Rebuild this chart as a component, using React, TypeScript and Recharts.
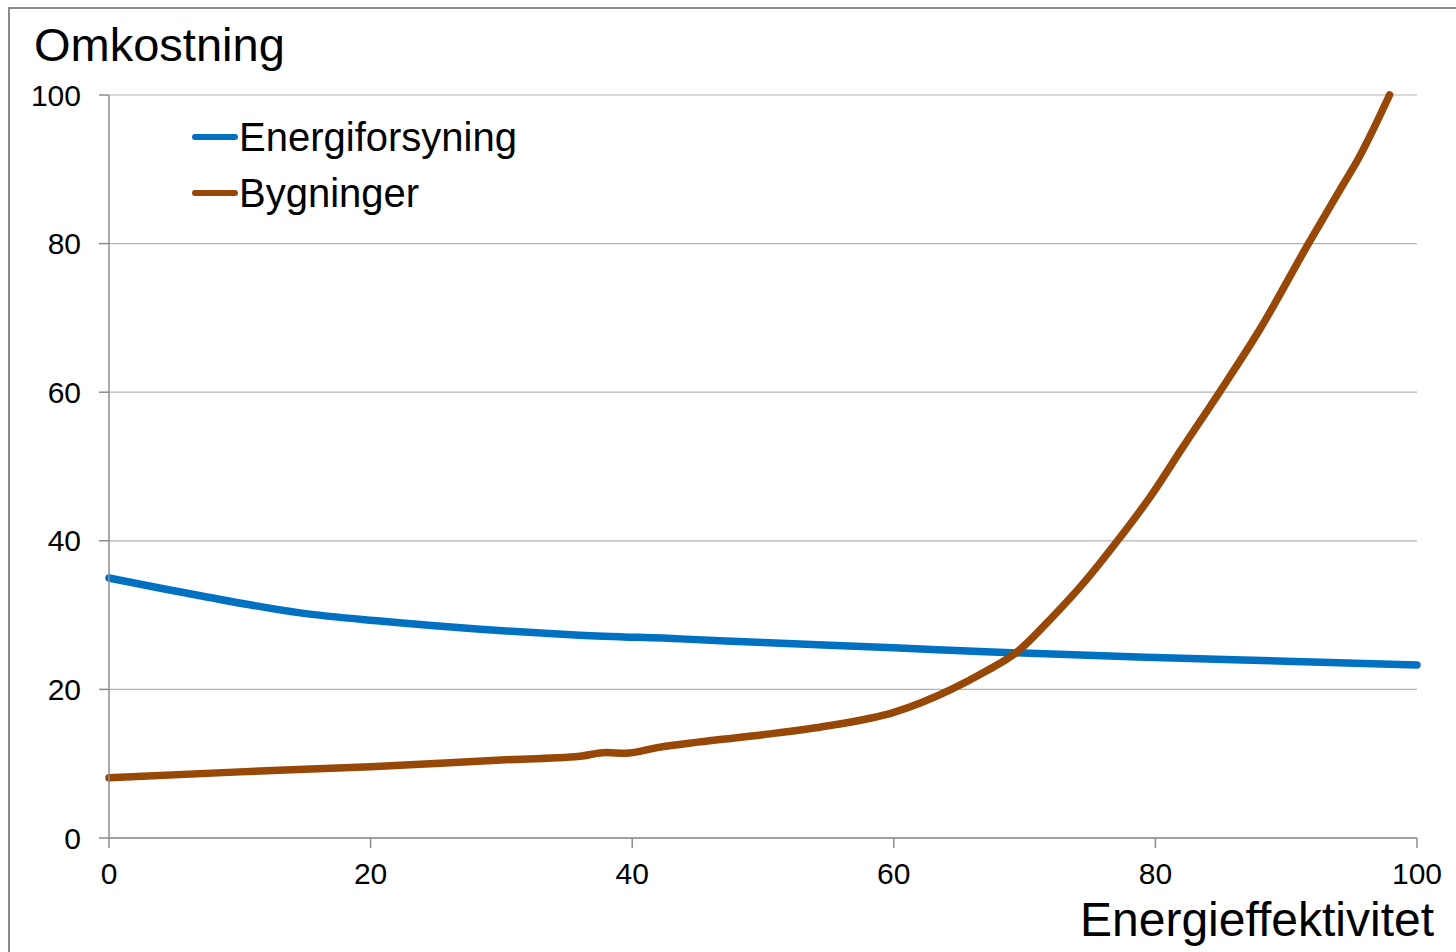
import { CartesianGrid, Line, LineChart, XAxis, YAxis } from 'recharts';

// Energiforsyning (blå)
const energiX = [0, 7, 14.6, 20.7, 28.4, 36, 43.7, 50, 60, 68, 80, 90, 100];
const energiY = [35.0, 32.6, 30.3, 29.2, 28.1, 27.3, 26.8, 26.3, 25.6, 25.0, 24.3, 23.8, 23.3];

// Bygninger (brun)
const bygX = [0, 10, 20, 30, 36, 38, 39.5, 42, 45, 50, 55, 60, 64.4, 67, 69.4, 72, 74.5, 77.1, 79.6, 82.1, 84.9, 88, 91.7, 94.1, 95.6, 97.9];
const bygY = [8.1, 8.9, 9.6, 10.5, 11.0, 11.5, 11.4, 12.2, 12.9, 13.9, 15.1, 16.9, 20, 22.4, 25, 29.5, 34.3, 40, 45.9, 52.6, 60, 68.5, 80, 87.2, 91.7, 100];

const xTicks = [0, 20, 40, 60, 80, 100];
const yTicks = [0, 20, 40, 60, 80, 100];

const SERIES = [
  { name: 'Energiforsyning', color: '#0070C0', xs: energiX, ys: energiY },
  { name: 'Bygninger', color: '#974706', xs: bygX, ys: bygY },
];

const FONT = '"Liberation Sans", Arial, sans-serif';
const AXIS_GREY = '#8c8c8c';

function LegendBox() {
  return (
    <div style={{ position: 'absolute', left: 191, top: 109, fontFamily: FONT, fontSize: 40, color: '#000' }}>
      {SERIES.map((s) => (
        <div key={s.name} style={{ display: 'flex', alignItems: 'center', height: 56 }}>
          <svg width={48} height={10} style={{ display: 'block' }}>
            <line x1={4} y1={5} x2={44} y2={5} stroke={s.color} strokeWidth={6} strokeLinecap="round" />
          </svg>
          <span style={{ lineHeight: 1 }}>{s.name}</span>
        </div>
      ))}
    </div>
  );
}

export default function App() {
  return (
    <div style={{ position: 'fixed', left: 0, top: 0, width: 1456, height: 952, overflow: 'hidden', background: '#fff' }}>
      <div
        style={{
          position: 'absolute',
          left: 8,
          top: 7,
          width: 1460,
          height: 960,
          borderTop: '2px solid #8a8a8a',
          borderLeft: '2px solid #8a8a8a',
        }}
      />
      <LineChart
        width={1456}
        height={952}
        margin={{ top: 95, right: 39, bottom: 74, left: 49 }}
        style={{ position: 'absolute', left: 0, top: 0 }}
      >
        <CartesianGrid vertical={false} stroke="#b3b3b3" strokeWidth={1.2} />
        <XAxis
          type="number"
          dataKey="x"
          domain={[0, 100]}
          ticks={xTicks}
          height={40}
          tickSize={10}
          tickMargin={15}
          axisLine={{ stroke: AXIS_GREY, strokeWidth: 1.5 }}
          tickLine={{ stroke: AXIS_GREY, strokeWidth: 1.5 }}
          tick={{ fontSize: 30, fill: '#000', fontFamily: FONT }}
        />
        <YAxis
          type="number"
          domain={[0, 100]}
          ticks={yTicks}
          width={60}
          tickSize={10}
          tickMargin={18}
          axisLine={{ stroke: AXIS_GREY, strokeWidth: 1.5 }}
          tickLine={{ stroke: AXIS_GREY, strokeWidth: 1.5 }}
          tick={{ fontSize: 30, fill: '#000', fontFamily: FONT }}
        />
        {SERIES.map((s) => (
          <Line
            key={s.name}
            name={s.name}
            data={s.xs.map((x, i) => ({ x, y: s.ys[i] }))}
            dataKey="y"
            type="monotone"
            stroke={s.color}
            strokeWidth={7.5}
            strokeLinecap="round"
            dot={false}
            activeDot={false}
            isAnimationActive={false}
          />
        ))}
      </LineChart>
      <LegendBox />
      <svg width={1456} height={952} style={{ position: 'absolute', left: 0, top: 0, pointerEvents: 'none' }}>
        <text x={34} y={61} fontSize={47} fontFamily={FONT} fill="#000">
          Omkostning
        </text>
        <text x={1434} y={936} fontSize={48} fontFamily={FONT} fill="#000" textAnchor="end">
          Energieffektivitet
        </text>
      </svg>
    </div>
  );
}
